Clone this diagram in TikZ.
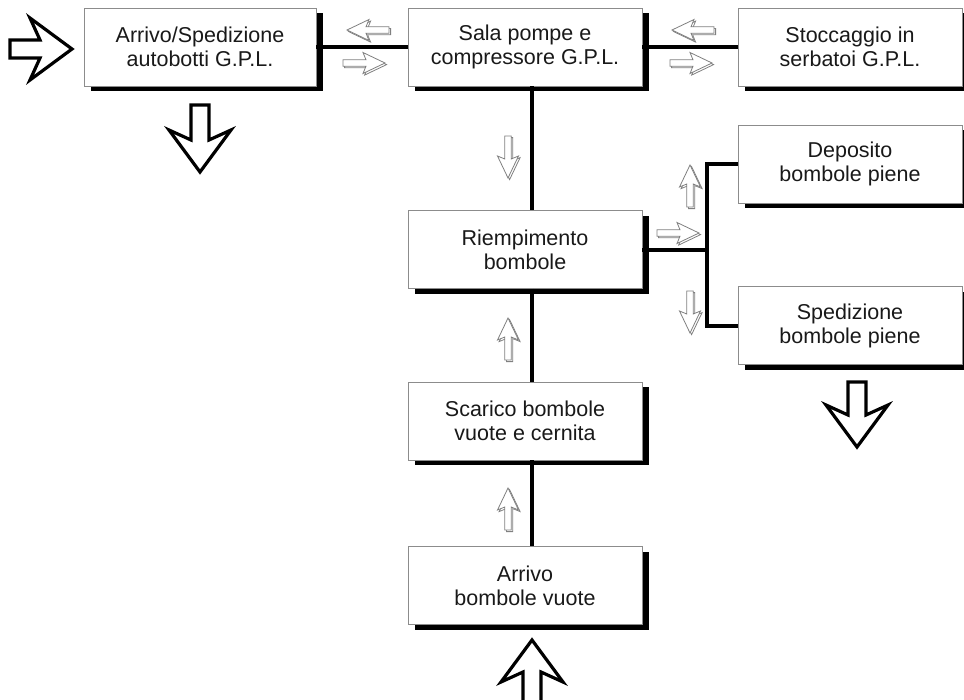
\documentclass[tikz,border=0pt]{standalone}
\usepackage{fontspec}
\setmainfont{Liberation Sans}
\usetikzlibrary{shadows,calc}
\newcommand\SmallArr[3]{%
  \draw[smallshade, shift={(#1+1.6,#2+1.6)}, rotate=#3] (0,0) -- (-22,-10.5) -- (-19,-3.2) -- (-42,-3.2) -- (-42,3.2) -- (-19,3.2) -- (-22,10.5) -- cycle;
  \draw[smallfront, shift={(#1,#2)}, rotate=#3] (0,0) -- (-22,-10.5) -- (-19,-3.2) -- (-42,-3.2) -- (-42,3.2) -- (-19,3.2) -- (-22,10.5) -- cycle;}
\newcommand\BigArr[4]{%
  \draw[bigarr, shift={(#1,#2)}, rotate=#3] (0,0) -- (-42,-31) -- (-32,-9) -- (-#4,-9) -- (-#4,9) -- (-32,9) -- (-42,31) -- cycle;}
\begin{document}
\begin{tikzpicture}[x=1pt,y=-1pt,
  box/.style={draw=black!45, line width=0.9pt, fill=white, minimum height=78pt,
    align=center, font=\fontsize{21.5}{24}\selectfont, text=black!90, inner sep=0pt,
    drop shadow={shadow xshift=6.5pt, shadow yshift=-5pt, fill=black, opacity=1}},
  conn/.style={line width=4pt, draw=black, line join=miter},
  smallfront/.style={draw=black!50, line width=0.8pt, fill=white, line join=miter},
  smallshade/.style={draw=black!50, line width=0.8pt, line join=miter},
  bigarr/.style={draw=black, line width=3.2pt, fill=white, line join=miter}]
\fill[white] (0,0) rectangle (964,699);
\useasboundingbox (0,0) rectangle (964,699);

% boxes
\node[box, minimum width=232pt] (A) at (200,47) {Arrivo/Spedizione\\autobotti G.P.L.};
\node[box, minimum width=234pt] (B) at (525,47) {Sala pompe e\\compressore G.P.L.};
\node[box, minimum width=224pt] (C) at (850,47) {Stoccaggio in\\serbatoi G.P.L.};
\node[box, minimum width=224pt] (D) at (850,164) {Deposito\\bombole piene};
\node[box, minimum width=234pt] (R) at (525,249.5) {Riempimento\\bombole};
\node[box, minimum width=224pt] (S) at (850,325.5) {Spedizione\\bombole piene};
\node[box, minimum width=234pt] (Sc) at (525,421) {Scarico bombole\\vuote e cernita};
\node[box, minimum width=234pt] (Ab) at (525,585.5) {Arrivo\\bombole vuote};

% connectors
\draw[conn] (A.east) -- (B.west);
\draw[conn] (B.east) -- (C.west);
\draw[conn] ([xshift=7pt]B.south) -- ([xshift=7pt]R.north);
\draw[conn] ([xshift=7pt]R.south) -- ([xshift=7pt]Sc.north);
\draw[conn] ([xshift=7pt]Sc.south) -- ([xshift=7pt]Ab.north);
\coordinate (J) at (707,249.5);
\draw[conn] (R.east) -- (J);
\draw[conn] (D.west) -| (J) |- (S.west);

% small flow arrows
\SmallArr{347}{30}{180}
\SmallArr{385}{63}{0}
\SmallArr{672}{30}{180}
\SmallArr{712}{63}{0}
\SmallArr{508}{178}{-90}
\SmallArr{508}{318}{90}
\SmallArr{508}{488}{90}
\SmallArr{690}{165}{90}
\SmallArr{699}{233}{0}
\SmallArr{690}{333}{-90}

% big arrows
\BigArr{72}{49}{0}{62}
\BigArr{200}{172}{-90}{67}
\BigArr{857}{447}{-90}{65}
\BigArr{532}{640}{90}{70}
\end{tikzpicture}
\end{document}
